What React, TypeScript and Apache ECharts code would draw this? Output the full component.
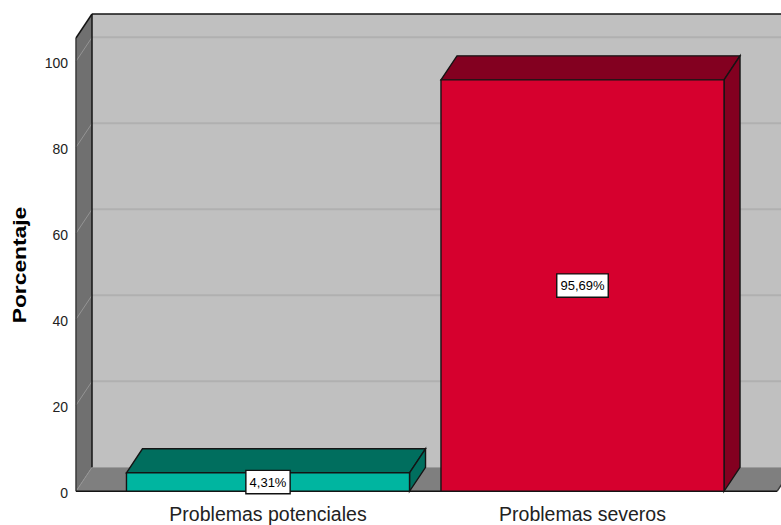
import React, { useEffect, useRef } from "react";
import * as echarts from "echarts";

const categories = ["Problemas potenciales", "Problemas severos"];
const percentages = [4.31, 95.69];
const frontColors = ["#00b5a0", "#d6002e"];
const shadeColors = ["#006e5e", "#830020"];
const gridValues = [0, 20, 40, 60, 80, 100];

// Oblique projection offset of the box: how far the back plane is shifted.
const DEPTH_X = 16;
const DEPTH_Y = -24;
const WALL_LEFT = 76;
const WALL_RIGHT = 777;
const WALL_TOP_BACK = 14;
const EDGE = "#141414";

const poly = (points: number[][], fill: any, stroke: string | null, lineWidth = 1.4) => ({
  type: "polygon",
  shape: { points },
  style: { fill, stroke: stroke ?? "none", lineWidth },
});

const line = (a: number[], b: number[], stroke: string, lineWidth = 1.5) => ({
  type: "line",
  shape: { x1: a[0], y1: a[1], x2: b[0], y2: b[1] },
  style: { stroke, lineWidth },
});

export default function App() {
  const ref = useRef<HTMLDivElement>(null);

  useEffect(() => {
    const chart = echarts.init(ref.current!, undefined, { renderer: "svg" });

    // Back wall, side wall and floor, plus the gridline drawn across each wall.
    const renderRoom = (_: any, api: any) => {
      const y0 = api.coord([0, 0])[1];
      const backY0 = y0 + DEPTH_Y;
      const backLeft = WALL_LEFT + DEPTH_X;
      const far = 820;
      const children: any[] = [
        { type: "rect", shape: { x: backLeft, y: WALL_TOP_BACK, width: far, height: backY0 - WALL_TOP_BACK }, style: { fill: "#c0c0c0" } },
        poly([[WALL_LEFT, WALL_TOP_BACK - DEPTH_Y], [backLeft, WALL_TOP_BACK], [backLeft, backY0], [WALL_LEFT, y0]], "#707070", null),
        poly([[WALL_LEFT, y0], [backLeft, backY0], [WALL_RIGHT + DEPTH_X, backY0], [WALL_RIGHT, y0]], "#7f7f7f", null),
      ];
      gridValues.forEach((v) => {
        const y = api.coord([0, v])[1];
        if (v > 0) {
          children.push(line([backLeft, y + DEPTH_Y], [far, y + DEPTH_Y], "#b0b0b0", 2));
        }
        children.push(line([WALL_LEFT, y], [backLeft, y + DEPTH_Y], "#949494", 1));
      });
      children.push(
        line([backLeft, WALL_TOP_BACK], [far, WALL_TOP_BACK], EDGE),
        line([backLeft, WALL_TOP_BACK], [backLeft, backY0], EDGE),
        line([WALL_LEFT, WALL_TOP_BACK - DEPTH_Y], [backLeft, WALL_TOP_BACK], EDGE),
        line([WALL_LEFT, WALL_TOP_BACK - DEPTH_Y], [WALL_LEFT, y0], "#3a3a3a"),
        line([WALL_LEFT, y0], [WALL_RIGHT, y0], EDGE),
        line([WALL_RIGHT, y0], [WALL_RIGHT + DEPTH_X, backY0], "#3a3a3a"),
      );
      return { type: "group", children };
    };

    // Box-shaped bar with its value tag in the centre of the front face.
    const renderBar = (params: any, api: any) => {
      const i = params.dataIndex;
      const value = api.value(1);
      const [cx, top] = api.coord([i, value]);
      const base = api.coord([i, 0])[1];
      const half = (api.size([1, 0])[0] * 0.9) / 2;
      const l = cx - half;
      const r = cx + half;
      return {
        type: "group",
        children: [
          poly([[l, top], [l + DEPTH_X, top + DEPTH_Y], [r + DEPTH_X, top + DEPTH_Y], [r, top]], shadeColors[i], EDGE),
          poly([[r, top], [r + DEPTH_X, top + DEPTH_Y], [r + DEPTH_X, base + DEPTH_Y], [r, base]], shadeColors[i], EDGE),
          poly([[l, top], [r, top], [r, base], [l, base]], frontColors[i], EDGE),
          {
            type: "text",
            x: cx,
            y: (top + base) / 2,
            style: {
              text: `${value.toFixed(2).replace(".", ",")}%`,
              align: "center",
              verticalAlign: "middle",
              fill: "#000000",
              font: "13px 'Liberation Sans', sans-serif",
              backgroundColor: "#ffffff",
              borderColor: "#111111",
              borderWidth: 1.4,
              padding: [5, 3, 4, 3],
            },
          },
        ],
      };
    };

    chart.setOption({
      animation: false,
      backgroundColor: "#ffffff",
      grid: { left: 110.75, width: 629, top: 61.3, height: 430 },
      xAxis: {
        type: "category",
        data: categories,
        axisLine: { show: false },
        axisTick: { show: false },
        axisLabel: { color: "#222222", fontFamily: "Liberation Sans", fontSize: 19.5, margin: 13 },
      },
      yAxis: {
        type: "value",
        min: 0,
        max: 100,
        interval: 20,
        offset: 34.75,
        axisLine: { show: false },
        axisTick: { show: false },
        splitLine: { show: false },
        axisLabel: {
          margin: 8,
          formatter: "{tick|{value}}",
          rich: {
            tick: { color: "#222222", fontFamily: "Liberation Sans", fontSize: 14, padding: [4, 0, 0, 0] },
          },
        },
      },
      graphic: [
        {
          type: "text",
          x: 19,
          y: 265,
          rotation: Math.PI / 2,
          scaleX: 1.2,
          style: {
            text: "Porcentaje",
            align: "center",
            verticalAlign: "middle",
            fill: "#000000",
            font: "bold 19px 'Liberation Sans', sans-serif",
          },
        },
      ],
      series: [
        { type: "custom", renderItem: renderRoom, data: [0], silent: true, z: 1, clip: false },
        {
          type: "custom",
          renderItem: renderBar,
          data: percentages.map((v, i) => [i, v]),
          encode: { x: 0, y: 1 },
          z: 2,
          clip: false,
        },
      ],
    });

    return () => chart.dispose();
  }, []);

  return <div ref={ref} style={{ position: "absolute", left: 0, top: 0, width: 781, height: 525 }} />;
}
